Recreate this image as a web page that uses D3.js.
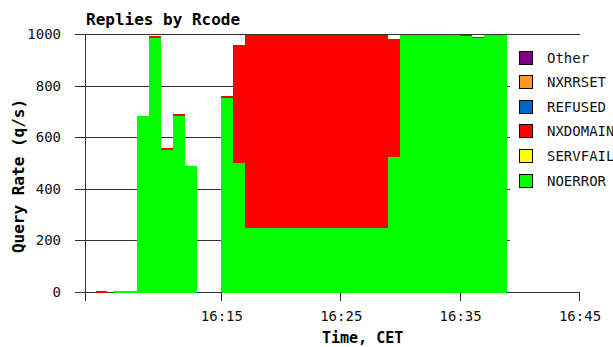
<!DOCTYPE html>
<html>
<head>
<meta charset="utf-8">
<script src="https://cdn.jsdelivr.net/npm/d3@7"></script>
<style>
  body { margin: 0; background: #fff; }
  svg { display: block; }
  .tick-label { font-family: "DejaVu Sans Mono", monospace; font-size: 14px; fill: #111; }
  .bold { font-family: "DejaVu Sans Mono", monospace; font-weight: bold; fill: #000; }
  .legend { font-family: "DejaVu Sans Mono", monospace; font-size: 14px; fill: #111; }
</style>
</head>
<body>
<svg id="chart" width="613" height="347"></svg>
<script>
// one bar per minute, start time of each minute
var minutes = ["16:04:30","16:06","16:07","16:08","16:09","16:10","16:11","16:12","16:13","16:14",
  "16:15","16:16","16:17","16:18","16:19","16:20","16:21","16:22","16:23","16:24","16:25","16:26",
  "16:27","16:28","16:29","16:30","16:31","16:32","16:33","16:34","16:35","16:36","16:37","16:38"];
var noerror = [0,2,2,682,984,552,684,488,0,0,
  752,499,248,248,248,248,248,248,248,248,248,248,
  248,248,524,1010,1010,1010,1010,1010,992,983,1010,1010];
var nxdomain = [3,0,0,0,7,7,6,0,0,0,
  6,458,770,770,770,770,770,770,770,770,770,770,
  770,770,458,0,0,0,0,0,6,6,0,0];

var legendNames = ["Other","NXRRSET","REFUSED","NXDOMAIN","SERVFAIL","NOERROR"];
var legendColors = ["#800080","#ff9922","#0066cc","#ff0000","#ffff00","#00ff00"];
var yTicks = [0,200,400,600,800,1000];
var xTicks = ["16:15","16:25","16:35","16:45"];

var svg = d3.select('#chart');
var margin = {left:85, right:34, top:34, bottom:55};
var width = +svg.attr('width'), height = +svg.attr('height');

var parse = d3.timeParse('%H:%M:%S');
var toTime = s => parse(s.length === 5 ? s + ':00' : s);

var x = d3.scaleTime()
    .domain([toTime('16:03:37'), toTime('16:45')])
    .range([margin.left, width - margin.right]);
var y = d3.scaleLinear()
    .domain([0, 1000])
    .range([height - margin.bottom, margin.top]);
var x1 = x.range()[1];

var rows = minutes.map((m,i) => ({t: toTime(m), NOERROR: noerror[i], NXDOMAIN: nxdomain[i]}));
var stack = d3.stack().keys(["NOERROR","NXDOMAIN"])(rows);
var colorOf = {NOERROR:"#00ff00", NXDOMAIN:"#ff0000"};

svg.append('defs').append('clipPath').attr('id','plot')
  .append('rect')
  .attr('x', margin.left).attr('y', margin.top)
  .attr('width', x1 - margin.left).attr('height', y(0) - margin.top + 1);

// horizontal grid lines and the zero rule (behind bars)
svg.append('g').selectAll('line').data(yTicks.slice(0,5)).enter().append('line')
    .attr('x1', margin.left - 10).attr('x2', x1 + 1)
    .attr('y1', d => Math.round(y(d)) + 0.5).attr('y2', d => Math.round(y(d)) + 0.5)
    .attr('stroke', '#333');

var bars = svg.append('g').attr('clip-path','url(#plot)').attr('shape-rendering','crispEdges');
stack.forEach((layer, li) => {
  bars.append('g').attr('fill', colorOf[layer.key])
    .selectAll('rect').data(layer.filter(d => d[1] - d[0] > 0)).enter().append('rect')
    .attr('x', d => x(d.data.t))
    .attr('width', d => x(d3.timeMinute.offset(d.data.t, 1)) - x(d.data.t))
    .attr('y', d => y(d[1]))
    .attr('height', d => Math.max(1, y(d[0]) - y(d[1])) + (d[0] === 0 ? 1 : 0));
});

// legend box covers grid on the right
svg.append('rect').attr('x', 510).attr('y', margin.top + 1)
  .attr('width', 110).attr('height', y(0) - margin.top - 2).attr('fill', '#fff');

var lg = svg.append('g');
legendNames.forEach((name, i) => {
  var cy = 57.5 + i * 24.6;
  lg.append('rect').attr('x', 519.5).attr('y', Math.round(cy - 7) + 0.5)
    .attr('width', 13).attr('height', 13)
    .attr('fill', legendColors[i]).attr('stroke', '#000');
  lg.append('text').attr('class','legend').attr('x', 547).attr('y', cy + 5).text(name);
});

// top rule, y axis
svg.append('line')
  .attr('x1', margin.left - 10).attr('x2', x1 + 1)
  .attr('y1', Math.round(y(1000)) + 0.5).attr('y2', Math.round(y(1000)) + 0.5)
  .attr('stroke', '#333');
svg.append('line')
  .attr('x1', margin.left + 0.5).attr('x2', margin.left + 0.5)
  .attr('y1', margin.top).attr('y2', y(0) + 9)
  .attr('stroke', '#333');

// x ticks
svg.append('g').selectAll('line').data(xTicks).enter().append('line')
  .attr('x1', d => Math.round(x(toTime(d))) + 0.5).attr('x2', d => Math.round(x(toTime(d))) + 0.5)
  .attr('y1', y(0)).attr('y2', y(0) + 9)
  .attr('stroke', '#333');
svg.append('g').selectAll('text').data(xTicks).enter().append('text')
  .attr('class','tick-label')
  .attr('x', d => x(toTime(d)) + 1).attr('y', 321)
  .attr('text-anchor','middle').text(d => d);

// y tick labels
svg.append('g').selectAll('text').data(yTicks).enter().append('text')
  .attr('class','tick-label')
  .attr('x', 61).attr('y', d => y(d) + 5)
  .attr('text-anchor','end').text(d => d);

svg.append('text').attr('class','bold').attr('x', 86).attr('y', 25)
  .style('font-size','16px').text('Replies by Rcode');
svg.append('text').attr('class','bold')
  .attr('transform','translate(24,176) rotate(-90)')
  .attr('text-anchor','middle').style('font-size','16px').text('Query Rate (q/s)');
svg.append('text').attr('class','bold').attr('x', 322).attr('y', 343)
  .style('font-size','15px').text('Time, CET');
</script>
</body>
</html>
